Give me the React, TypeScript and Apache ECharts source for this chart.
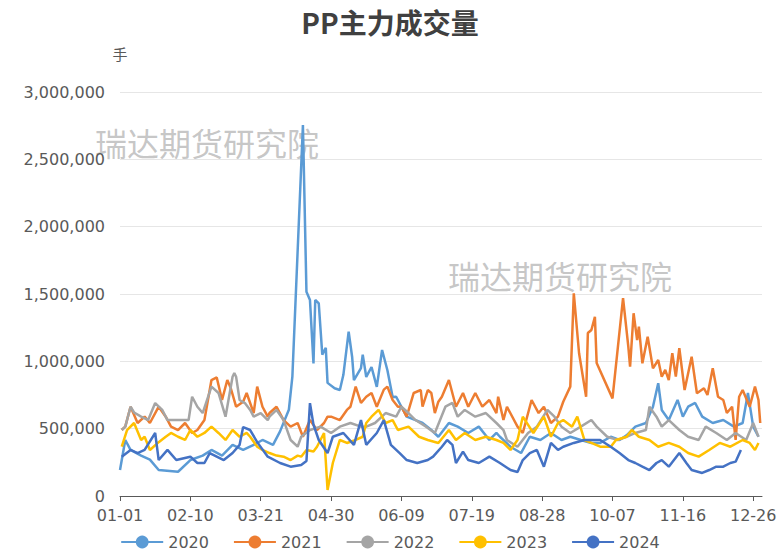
import React, { useEffect, useRef } from "react";
import * as echarts from "echarts";

const monthDays = [31, 29, 31, 30, 31, 30, 31, 31, 30, 31, 30, 31];
const dayLabels: string[] = [];
monthDays.forEach((n, m) => {
  for (let d = 1; d <= n; d++) {
    dayLabels.push(String(m + 1).padStart(2, "0") + "-" + String(d).padStart(2, "0"));
  }
});

const seriesNames = ["2020", "2021", "2022", "2023", "2024"];
const seriesColors = ["#5B9BD5", "#ED7D31", "#A5A5A5", "#FFC000", "#4472C4"];

// [day-of-year index, volume (手)]
const vol2020: [number, number][] = [
  [0,193000],[3,416000],[6,342000],[12,300000],[17,270000],[22,193000],[33,180000],[40,267000],[47,300000],[52,342000],[58,300000],[64,380000],[70,342000],[76,380000],[81,416000],[87,380000],[91,480000],[96,640000],[98,886000],[104,2755000],[106,1517000],[108,1455000],[110,985000],[111,1456000],[113,1430000],[115,1050000],[117,1100000],[118,840000],[122,800000],[125,787000],[127,900000],[130,1220000],[132,1030000],[133,860000],[137,950000],[138,1050000],[140,884000],[143,958000],[146,810000],[149,1084000],[152,936000],[155,735000],[157,737000],[160,663000],[163,589000],[168,564000],[172,542000],[177,490000],[181,440000],[187,542000],[192,515000],[198,468000],[204,515000],[210,416000],[214,468000],[216,440000],[222,366000],[228,319000],[233,440000],[239,416000],[245,468000],[251,416000],[256,440000],[262,416000],[268,394000],[273,394000],[279,440000],[284,416000],[288,450000],[293,515000],[299,542000],[303,663000],[306,837000],[308,639000],[312,564000],[317,713000],[320,589000],[323,663000],[327,691000],[331,589000],[337,542000],[343,564000],[349,515000],[354,542000],[357,765000],[360,515000],[363,440000]
];
const vol2021: [number, number][] = [
  [1,490000],[3,515000],[6,663000],[10,542000],[14,590000],[17,542000],[22,663000],[26,589000],[29,515000],[33,490000],[37,542000],[41,468000],[44,490000],[48,564000],[52,861000],[55,880000],[58,713000],[61,861000],[63,800000],[66,663000],[70,700000],[72,765000],[76,616000],[78,812000],[81,663000],[84,589000],[85,616000],[89,663000],[93,564000],[97,515000],[101,542000],[104,440000],[108,564000],[112,490000],[116,542000],[118,589000],[120,589000],[125,564000],[129,639000],[131,663000],[134,812000],[137,691000],[140,737000],[143,765000],[146,663000],[150,790000],[152,812000],[155,713000],[158,663000],[160,663000],[163,589000],[167,765000],[171,787000],[172,663000],[175,787000],[177,765000],[179,616000],[181,700000],[183,737000],[187,861000],[191,663000],[195,765000],[198,663000],[202,765000],[206,663000],[210,713000],[214,616000],[215,737000],[218,564000],[220,663000],[226,515000],[229,468000],[234,713000],[238,616000],[241,663000],[245,542000],[249,589000],[252,700000],[256,812000],[258,1505000],[261,1060000],[265,737000],[266,1210000],[268,1233000],[270,1330000],[271,988000],[280,725000],[286,1470000],[289,1109000],[290,960000],[292,1357000],[294,1158000],[295,1257000],[297,985000],[300,1183000],[303,948000],[306,1010000],[308,886000],[310,936000],[312,861000],[314,1060000],[316,886000],[318,1097000],[321,787000],[325,1034000],[328,763000],[332,800000],[334,750000],[337,948000],[340,737000],[343,713000],[345,616000],[348,663000],[350,416000],[352,737000],[354,787000],[358,663000],[361,812000],[363,713000],[364,542000]
];
const vol2022: [number, number][] = [
  [1,490000],[3,515000],[6,663000],[8,620000],[12,589000],[16,564000],[20,690000],[24,639000],[27,564000],[33,564000],[39,564000],[41,737000],[44,663000],[47,616000],[52,812000],[56,765000],[60,589000],[64,886000],[65,913000],[66,886000],[68,713000],[71,690000],[74,639000],[76,589000],[80,616000],[84,564000],[85,589000],[89,639000],[93,564000],[97,416000],[101,366000],[103,440000],[108,490000],[114,515000],[120,468000],[125,515000],[131,542000],[137,515000],[140,515000],[145,542000],[151,616000],[157,589000],[160,663000],[164,616000],[168,564000],[174,515000],[179,468000],[185,663000],[189,691000],[192,589000],[196,639000],[202,589000],[208,616000],[214,542000],[218,490000],[220,416000],[226,366000],[232,468000],[237,515000],[243,639000],[247,589000],[251,515000],[256,468000],[262,515000],[268,564000],[271,515000],[277,440000],[283,416000],[288,440000],[293,468000],[299,490000],[301,663000],[305,589000],[308,515000],[312,564000],[318,490000],[323,440000],[329,416000],[333,515000],[339,468000],[345,416000],[350,468000],[356,416000],[360,542000],[363,440000]
];
const vol2023: [number, number][] = [
  [1,366000],[4,490000],[8,542000],[12,416000],[14,440000],[17,342000],[22,400000],[26,440000],[29,468000],[33,440000],[37,416000],[40,490000],[44,440000],[48,468000],[52,515000],[56,468000],[60,416000],[64,490000],[68,440000],[72,468000],[74,440000],[78,366000],[81,342000],[85,319000],[89,300000],[93,292000],[97,267000],[101,300000],[103,292000],[106,342000],[110,330000],[112,366000],[116,468000],[118,45000],[121,245000],[125,416000],[129,394000],[134,416000],[138,440000],[140,542000],[143,589000],[147,639000],[151,542000],[155,564000],[158,490000],[164,515000],[170,440000],[175,416000],[181,394000],[187,490000],[191,416000],[196,468000],[202,416000],[208,440000],[214,416000],[218,394000],[222,342000],[226,416000],[229,589000],[235,468000],[241,589000],[245,440000],[249,542000],[252,564000],[257,515000],[260,589000],[264,416000],[268,394000],[273,366000],[279,366000],[282,416000],[288,440000],[291,490000],[295,440000],[301,416000],[306,366000],[312,394000],[318,366000],[323,319000],[329,292000],[335,342000],[341,394000],[347,366000],[354,416000],[358,394000],[361,342000],[363,394000]
];
const vol2024: [number, number][] = [
  [1,292000],[6,342000],[10,319000],[14,342000],[20,468000],[22,267000],[27,342000],[32,267000],[40,292000],[44,245000],[48,245000],[51,319000],[59,267000],[64,319000],[68,380000],[70,512000],[74,490000],[78,400000],[84,292000],[91,245000],[97,218000],[103,230000],[106,260000],[108,690000],[110,530000],[113,416000],[118,319000],[121,440000],[127,468000],[133,380000],[137,564000],[140,380000],[146,468000],[150,564000],[154,380000],[159,319000],[163,267000],[169,245000],[175,267000],[178,292000],[183,366000],[186,416000],[189,380000],[191,245000],[195,330000],[198,267000],[204,245000],[210,292000],[216,245000],[222,193000],[226,178000],[229,267000],[233,319000],[237,342000],[241,218000],[245,394000],[249,342000],[252,366000],[258,394000],[264,416000],[268,416000],[273,416000],[279,366000],[284,319000],[289,267000],[293,245000],[297,218000],[301,193000],[305,245000],[308,267000],[312,218000],[318,319000],[322,245000],[325,193000],[331,171000],[335,193000],[339,218000],[343,218000],[347,245000],[350,255000],[353,342000]
];
const allSeries = [vol2020, vol2021, vol2022, vol2023, vol2024];

const yTicks = { min: 0, max: 3000000, interval: 500000 };

export default function App() {
  const ref = useRef<HTMLDivElement>(null);
  useEffect(() => {
    if (!ref.current) return;
    const chart = echarts.init(ref.current, null, { renderer: "svg" });
    chart.setOption({
      animation: false,
      backgroundColor: "#ffffff",
      color: seriesColors,
      title: {
        text: "PP主力成交量",
        left: "center",
        top: 3,
        textStyle: { fontSize: 28, fontWeight: "bold", color: "#404040", fontFamily: "Noto Sans CJK SC" },
      },
      graphic: [
        { type: "text", left: 95, top: 126, silent: true, style: { text: "瑞达期货研究院", fontSize: 32, fill: "rgba(150,150,150,0.55)", fontFamily: "Noto Sans CJK SC" } },
        { type: "text", left: 448, top: 259, silent: true, style: { text: "瑞达期货研究院", fontSize: 32, fill: "rgba(150,150,150,0.55)", fontFamily: "Noto Sans CJK SC" } },
      ],
      legend: {
        bottom: 0,
        itemGap: 24,
        itemWidth: 42,
        itemHeight: 16,
        textStyle: { fontSize: 16, color: "#595959", fontFamily: "DejaVu Sans" },
        data: seriesNames,
      },
      grid: { left: 120, right: 18, top: 92, bottom: 59 },
      xAxis: {
        type: "category",
        data: dayLabels,
        boundaryGap: false,
        axisLine: { lineStyle: { color: "#595959" } },
        axisTick: { interval: 39, length: 5, lineStyle: { color: "#595959" } },
        axisLabel: { interval: 39, fontSize: 16, color: "#595959", fontFamily: "DejaVu Sans", margin: 11 },
      },
      yAxis: {
        type: "value",
        min: yTicks.min,
        max: yTicks.max,
        interval: yTicks.interval,
        name: "手",
        nameGap: 31,
        nameTextStyle: { fontSize: 15, color: "#595959", fontFamily: "Noto Sans CJK SC" },
        axisLine: { show: false },
        axisTick: { show: false },
        splitLine: { lineStyle: { color: "#e6e6e6" } },
        axisLabel: {
          fontSize: 16,
          color: "#595959",
          fontFamily: "DejaVu Sans",
          margin: 15,
          formatter: (v: number) => v.toLocaleString("en-US"),
        },
      },
      series: allSeries.map((d, i) => ({
        name: seriesNames[i],
        type: "line",
        data: d,
        symbol: "circle",
        symbolSize: 9,
        showSymbol: false,
        lineStyle: { width: 2.5 },
      })),
    });
    return () => chart.dispose();
  }, []);
  return <div ref={ref} style={{ position: "fixed", left: 0, top: 0, width: 780, height: 555 }} />;
}
